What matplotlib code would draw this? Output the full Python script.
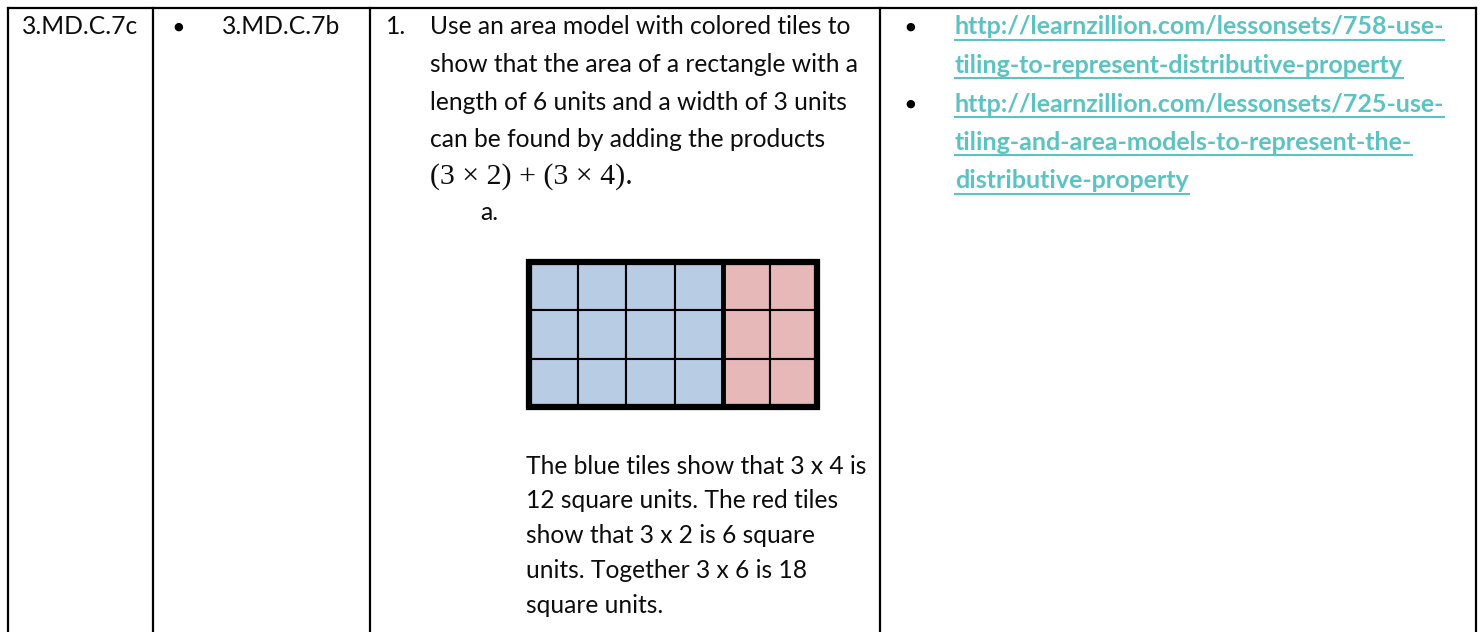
import matplotlib

matplotlib.use("Agg")
import matplotlib.pyplot as plt
from matplotlib.patches import Rectangle

W, H = 1483, 632
DPI = 100

TEXT_FONT = ["Lato", "DejaVu Sans"]
MATH_FONT = ["Liberation Serif", "DejaVu Serif"]
LINK_COLOR = "#5BC3C1"
BLUE_TILE = "#B8CCE4"
RED_TILE = "#E6B8B7"

# table content
standard = "3.MD.C.7c"
related = ["3.MD.C.7b"]
task_lines = [
    "Use an area model with colored tiles to",
    "show that the area of a rectangle with a",
    "length of 6 units and a width of 3 units",
    "can be found by adding the products",
]
task_math = "(3 \u00d7 2) + (3 \u00d7 4)."
sub_label = "a."
answer_lines = [
    "The blue tiles show that 3 x 4 is",
    "12 square units. The red tiles",
    "show that 3 x 2 is 6 square",
    "units. Together 3 x 6 is 18",
    "square units.",
]
link_lines = [
    ["http://learnzillion.com/lessonsets/758-use-",
     "tiling-to-represent-distributive-property"],
    ["http://learnzillion.com/lessonsets/725-use-",
     "tiling-and-area-models-to-represent-the-",
     "distributive-property"],
]

# area model: 3 rows, 4 blue columns + 2 red columns
tile_rows = 3
blue_cols = 4
red_cols = 2

fig = plt.figure(figsize=(W / DPI, H / DPI), dpi=DPI, facecolor="white")
ax = fig.add_axes([0, 0, 1, 1])
ax.set_xlim(0, W)
ax.set_ylim(H, 0)
ax.axis("off")

FS = 17.7
kw = dict(fontsize=FS, family=TEXT_FONT, color="#0d0d0d", va="center", ha="left")

# grid lines of the table
lw = 1.6
ax.plot([8, 1476], [8, 8], color="black", lw=lw, solid_capstyle="projecting")
for x in [8, 153, 370, 880, 1476]:
    ax.plot([x, x], [8, H + 2], color="black", lw=lw)

# column 1
ax.text(22, 27, standard, **kw)

# column 2
for i, r in enumerate(related):
    ax.text(178, 27 + 36 * i, "\u25cf", fontsize=8, family="DejaVu Sans",
            ha="center", va="center", color="black")
    ax.text(222, 27 + 36 * i, r, **kw)

# column 3
ax.text(386, 27, "1.", **kw)
step = 37.5
for i, line in enumerate(task_lines):
    ax.text(430, 27 + step * i, line, **kw)
ax.text(430, 27 + step * len(task_lines), task_math, fontsize=21.5,
        family=MATH_FONT, color="#0d0d0d", va="center", ha="left")
ax.text(480, 213, sub_label, **kw)

# tile model
x0, y0 = 529, 262
tw_b, tw_r, th = 48.5, 47.0, 48.3
for r in range(tile_rows):
    for c in range(blue_cols):
        ax.add_patch(Rectangle((x0 + c * tw_b, y0 + r * th), tw_b, th,
                               facecolor=BLUE_TILE, edgecolor="black", lw=1.5))
    for c in range(red_cols):
        ax.add_patch(Rectangle((x0 + blue_cols * tw_b + c * tw_r, y0 + r * th),
                               tw_r, th, facecolor=RED_TILE, edgecolor="black",
                               lw=1.5))
gw = blue_cols * tw_b + red_cols * tw_r
gh = tile_rows * th
ax.add_patch(Rectangle((x0, y0), gw, gh, fill=False, edgecolor="black", lw=4.5,
                       joinstyle="miter"))
ax.plot([x0 + blue_cols * tw_b] * 2, [y0, y0 + gh], color="black", lw=3.5)

# answer paragraph
for i, line in enumerate(answer_lines):
    ax.text(526, 466 + 34.8 * i, line, **kw)

# column 4: links
y = 27
for group in link_lines:
    ax.text(910, y, "\u25cf", fontsize=8, family="DejaVu Sans",
            ha="center", va="center", color="black")
    for line in group:
        t = ax.text(955, y, line, fontsize=18.0, family=TEXT_FONT, weight="bold",
                    color=LINK_COLOR, va="center", ha="left")
        fig.canvas.draw()
        bb = t.get_window_extent().transformed(ax.transData.inverted())
        ax.plot([bb.x0, bb.x1], [y + 12.5, y + 12.5], color=LINK_COLOR, lw=1.5)
        y += 38.5

fig.savefig("out.png", dpi=DPI, facecolor="white")
